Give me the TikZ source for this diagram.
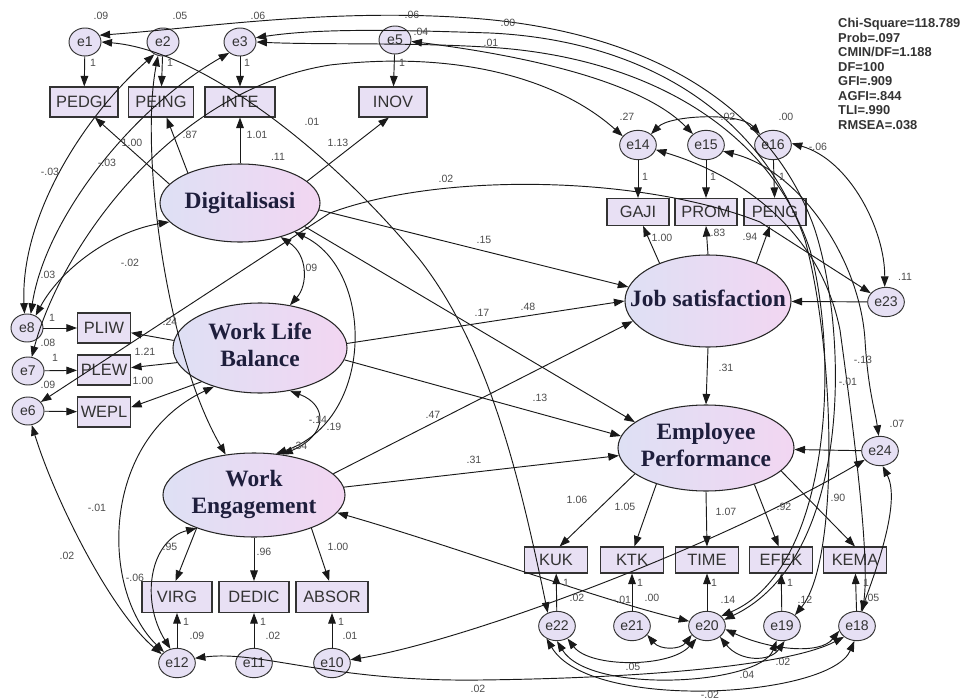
\documentclass[tikz,border=0pt]{standalone}
\usepackage{fontspec}
\setmainfont{Liberation Serif}
\setsansfont{Liberation Sans}
\usepackage{tikz}
\usetikzlibrary{arrows.meta, positioning, shapes.geometric}

\definecolor{latleft}{RGB}{222,224,244}
\definecolor{latright}{RGB}{242,214,242}
\definecolor{boxfill}{RGB}{232,224,244}
\definecolor{errfill}{RGB}{230,224,244}
\definecolor{lattext}{RGB}{30,30,60}

\newcommand{\latname}[1]{\makebox[0pt]{\begin{tabular}{@{}c@{}}#1\end{tabular}}}

\begin{document}
\begin{tikzpicture}[
  x=0.03cm, y=-0.03cm,
  latent/.style={
    ellipse,
    draw=black!85,
    left color=latleft,
    right color=latright,
    line width=0.9pt,
    inner sep=0pt,
    text=lattext,
    font=\rmfamily\bfseries\fontsize{20}{23}\selectfont
  },
  indbox/.style={
    rectangle,
    draw=black!80,
    fill=boxfill,
    line width=0.9pt,
    inner sep=0pt,
    text=black!80,
    font=\sffamily\fontsize{14}{14}\selectfont
  },
  errnode/.style={
    ellipse,
    draw=black!80,
    fill=errfill,
    line width=0.8pt,
    minimum width=1.1cm,
    minimum height=0.88cm,
    inner sep=0pt,
    text=black!80,
    font=\sffamily\fontsize{12}{12}\selectfont
  },
  est/.style={
    inner sep=0pt,
    text=black!70,
    font=\sffamily\fontsize{9}{9}\selectfont
  },
  regarrow/.style={
    draw=black!90,
    -{Triangle[length=9pt,width=6.5pt]},
    line width=0.8pt
  },
  covarrow/.style={
    draw=black!90,
    {Triangle[length=9pt,width=6.5pt]}-{Triangle[length=9pt,width=6.5pt]},
    line width=0.8pt
  }
]
\useasboundingbox (0,0) rectangle (970,700);

% Latent variables
\node[latent, minimum width=4.8cm, minimum height=2.34cm] (dig) at (240,203) {\latname{Digitalisasi}};
\node[latent, minimum width=5.22cm, minimum height=2.7cm] (wlb) at (260,348) {\latname{Work Life\\Balance}};
\node[latent, minimum width=5.46cm, minimum height=2.52cm] (we) at (254,495) {\latname{Work\\Engagement}};
\node[latent, minimum width=4.98cm, minimum height=2.76cm] (js) at (708,301) {\latname{Job satisfaction}};
\node[latent, minimum width=5.28cm, minimum height=2.58cm] (ep) at (706,448) {\latname{Employee\\Performance}};

% Indicators of Digitalisasi
\node[indbox, minimum width=2.04cm, minimum height=0.9cm] (pedgl) at (84,102) {PEDGL};
\node[indbox, minimum width=1.95cm, minimum height=0.9cm] (peing) at (161,102) {PEING};
\node[indbox, minimum width=2.1cm, minimum height=0.9cm] (inte) at (240,102) {INTE};
\node[indbox, minimum width=2.04cm, minimum height=0.9cm] (inov) at (393,102) {INOV};

% Indicators of Work Life Balance
\node[indbox, minimum width=1.59cm, minimum height=0.9cm] (pliw) at (104,328) {PLIW};
\node[indbox, minimum width=1.59cm, minimum height=0.9cm] (plew) at (104,370) {PLEW};
\node[indbox, minimum width=1.59cm, minimum height=0.9cm] (wepl) at (104,412) {WEPL};

% Indicators of Work Engagement
\node[indbox, minimum width=2.1cm, minimum height=0.93cm] (virg) at (177,597) {VIRG};
\node[indbox, minimum width=2.1cm, minimum height=0.93cm] (dedic) at (254,597) {DEDIC};
\node[indbox, minimum width=2.16cm, minimum height=0.93cm] (absor) at (332,597) {ABSOR};

% Indicators of Job satisfaction
\node[indbox, minimum width=1.86cm, minimum height=0.81cm] (gaji) at (638,212) {GAJI};
\node[indbox, minimum width=1.86cm, minimum height=0.81cm] (prom) at (706,212) {PROM};
\node[indbox, minimum width=1.86cm, minimum height=0.81cm] (peng) at (775,212) {PENG};

% Indicators of Employee Performance
\node[indbox, minimum width=1.89cm, minimum height=0.78cm] (kuk) at (556,560) {KUK};
\node[indbox, minimum width=1.89cm, minimum height=0.78cm] (ktk) at (632,560) {KTK};
\node[indbox, minimum width=1.89cm, minimum height=0.78cm] (time) at (707,560) {TIME};
\node[indbox, minimum width=1.89cm, minimum height=0.78cm] (efek) at (781,560) {EFEK};
\node[indbox, minimum width=1.89cm, minimum height=0.78cm] (kema) at (855,560) {KEMA};

% Error terms
\node[errnode, minimum width=0.96cm, minimum height=0.84cm] (e1) at (85,42) {e1};
\node[errnode, minimum width=0.96cm, minimum height=0.84cm] (e2) at (163,42) {e2};
\node[errnode, minimum width=0.96cm, minimum height=0.84cm] (e3) at (240,42) {e3};
\node[errnode, minimum width=0.96cm, minimum height=0.84cm] (e5) at (395,40) {e5};
\node[errnode, minimum width=0.96cm, minimum height=0.84cm] (e8) at (27,328) {e8};
\node[errnode, minimum width=0.96cm, minimum height=0.84cm] (e7) at (28,371) {e7};
\node[errnode, minimum width=0.96cm, minimum height=0.84cm] (e6) at (28,411) {e6};
\node[errnode] (e12) at (177,663) {e12};
\node[errnode] (e11) at (254,663) {e11};
\node[errnode] (e10) at (332,663) {e10};
\node[errnode] (e14) at (638,145) {e14};
\node[errnode] (e15) at (706,145) {e15};
\node[errnode] (e16) at (773,145) {e16};
\node[errnode] (e23) at (886,302) {e23};
\node[errnode] (e24) at (880,451) {e24};
\node[errnode] (e22) at (557,626) {e22};
\node[errnode] (e21) at (632,626) {e21};
\node[errnode] (e20) at (707,626) {e20};
\node[errnode] (e19) at (782,626) {e19};
\node[errnode] (e18) at (857,626) {e18};

% Fit statistics
\node[anchor=north west, align=left, inner sep=0pt, text=black!80,
  font=\sffamily\bfseries\fontsize{11}{12.4}\selectfont] (fit) at (838,18)
{Chi-Square=118.789\\Prob=.097\\CMIN/DF=1.188\\DF=100\\GFI=.909\\AGFI=.844\\TLI=.990\\RMSEA=.038};

% Measurement paths
\draw[regarrow] (dig.165) -- (pedgl.-55);
\draw[regarrow] (dig.150) -- (peing.-70);
\draw[regarrow] (dig.90) -- (inte.-90);
\draw[regarrow] (dig.18) -- (inov.-105);
\draw[regarrow] (wlb.175) -- (pliw.-10);
\draw[regarrow] (wlb.-170) -- (plew.5);
\draw[regarrow] (wlb.-150) -- (wepl.10);
\draw[regarrow] (we.-150) -- (virg.95);
\draw[regarrow] (we.-90) -- (dedic.90);
\draw[regarrow] (we.-30) -- (absor.100);
\draw[regarrow] (js.142) -- (gaji.-70);
\draw[regarrow] (js.90) -- (prom.-90);
\draw[regarrow] (js.38) -- (peng.-110);
\draw[regarrow] (ep.200) -- (kuk.75);
\draw[regarrow] (ep.216) -- (ktk.80);
\draw[regarrow] (ep.-90) -- (time.90);
\draw[regarrow] (ep.-37) -- (efek.100);
\draw[regarrow] (ep.-17) -- (kema.90);

% Error paths
\draw[regarrow] (e1) -- (pedgl);
\draw[regarrow] (e2) -- (peing);
\draw[regarrow] (e3) -- (inte);
\draw[regarrow] (e5) -- (inov);
\draw[regarrow] (e8) -- (pliw);
\draw[regarrow] (e7) -- (plew);
\draw[regarrow] (e6) -- (wepl);
\draw[regarrow] (e12) -- (virg);
\draw[regarrow] (e11) -- (dedic);
\draw[regarrow] (e10) -- (absor);
\draw[regarrow] (e14) -- (gaji);
\draw[regarrow] (e15) -- (prom);
\draw[regarrow] (e16) -- (peng);
\draw[regarrow] (e22) -- (kuk);
\draw[regarrow] (e21) -- (ktk);
\draw[regarrow] (e20) -- (time);
\draw[regarrow] (e19) -- (efek);
\draw[regarrow] (e18) -- (kema);
\draw[regarrow] (e23) -- (js);
\draw[regarrow] (e24) -- (ep);

% Structural paths
\draw[regarrow] (dig.-5) -- (js.170);
\draw[regarrow] (dig.-20) -- (ep.160);
\draw[regarrow] (wlb.3) -- (js.180);
\draw[regarrow] (wlb.-8) -- (ep.172);
\draw[regarrow] (we.15) -- (js.195);
\draw[regarrow] (we.5) -- (ep.185);
\draw[regarrow] (js.-90) -- (ep.90);

% Covariances between latents
\draw[covarrow] (dig.-40) .. controls (308,255) and (308,285) .. (wlb.55);
\draw[covarrow] (dig.-28) .. controls (375,270) and (375,420) .. (we.62);
\draw[covarrow] (wlb.-55) .. controls (328,405) and (328,435) .. (we.55);

% Covariances on the left
\draw[covarrow] (e2.-110) .. controls (140,150) and (165,350) .. (we.125);
\draw[covarrow] (e8.100) .. controls (20,220) and (80,120) .. (e2.-125);
\draw[covarrow] (e8.75) .. controls (45,220) and (130,110) .. (e3.-135);
\draw[covarrow] (e8.55) .. controls (60,270) and (110,232) .. (dig.195);
\draw[covarrow] (e7.75) .. controls (60,250) and (170,90) .. (330,65) .. controls (460,50) and (560,80) .. (e14.150);
\draw[covarrow] (e6.35) -- (330,213) .. controls (440,172) and (640,175) .. (760,222) -- (e23.150);
\draw[covarrow] (e1.0) .. controls (200,50) and (330,150) .. (420,260) .. controls (490,350) and (520,480) .. (e22.125);
\draw[covarrow] (e6.-75) .. controls (55,500) and (110,610) .. (e12.150);
\draw[covarrow] (e12.140) .. controls (100,590) and (100,440) .. (wlb.-140);
\draw[covarrow] (e12.115) .. controls (140,600) and (150,540) .. (we.-150);
\draw[covarrow] (e12.15) .. controls (260,650) and (330,682) .. (480,680) .. controls (650,678) and (790,665) .. (e18.-140);
\draw[covarrow] (e10.10) .. controls (470,640) and (720,545) .. (e24.-150);
\draw[covarrow] (we.-12) .. controls (450,545) and (600,600) .. (e20.165);

% Covariances across the top and down the right
\draw[covarrow] (e1.25) .. controls (200,28) and (330,8) .. (470,18) .. controls (640,30) and (770,100) .. (815,230) .. controls (850,340) and (850,560) .. (e20.20);
\draw[covarrow] (e3.15) .. controls (320,28) and (400,30) .. (490,33) .. controls (640,40) and (760,110) .. (805,240) .. controls (835,350) and (840,560) .. (e19.40);
\draw[covarrow] (e3.0) .. controls (320,45) and (420,42) .. (500,48) .. controls (650,60) and (770,130) .. (810,250) .. controls (840,360) and (830,570) .. (e20.35);
\draw[covarrow] (e5.-5) .. controls (520,55) and (640,80) .. (e15.140);
\draw[covarrow] (e14.40) .. controls (670,115) and (740,112) .. (e16.140);
\draw[covarrow] (e14.-15) .. controls (740,175) and (820,230) .. (840,330) .. controls (855,440) and (870,560) .. (e18.70);
\draw[covarrow] (e15.-20) .. controls (800,170) and (860,260) .. (865,340) .. controls (868,390) and (875,410) .. (e24.95);
\draw[covarrow] (e16.5) .. controls (850,160) and (885,230) .. (e23.95);
\draw[covarrow] (e18.75) .. controls (880,560) and (900,500) .. (e24.-80);

% Covariances among the bottom errors
\draw[covarrow] (e22.-50) .. controls (590,668) and (670,668) .. (e20.-130);
\draw[covarrow] (e21.-30) .. controls (660,650) and (680,650) .. (e20.-150);
\draw[covarrow] (e22.-90) .. controls (590,695) and (760,685) .. (e19.-110);
\draw[covarrow] (e22.-130) .. controls (590,712) and (830,698) .. (e18.-100);
\draw[covarrow] (e20.-40) .. controls (740,662) and (770,662) .. (e19.-80);
\draw[covarrow] (e20.-10) .. controls (770,650) and (820,655) .. (e18.-165);

% Estimates, top
\node[est] (ve1) at (101,16) {.09};
\node[est] (ve2) at (180,16) {.05};
\node[est] (ve3) at (258,16) {.06};
\node[est] (ve5) at (412,15) {.06};
\node[est] (c5a) at (421,32) {.04};
\node[est] (ct1) at (508,23) {.00};
\node[est] (ct2) at (491,43) {.01};
\node[est] (w1) at (93,63) {1};
\node[est] (w2) at (170,63) {1};
\node[est] (w3) at (247,63) {1};
\node[est] (w5) at (402,63) {1};
\node[est] (lpedgl) at (132,143) {1.00};
\node[est] (lpeing) at (190,135) {.87};
\node[est] (linte) at (257,135) {1.01};
\node[est] (vdig) at (278,157) {.11};
\node[est] (c1e22) at (312,122) {.01};
\node[est] (linov) at (338,143) {1.13};
\node[est] (c6e23) at (446,179) {.02};

% Estimates, left
\node[est] (c8e2) at (50,172) {-.03};
\node[est] (c8e3) at (107,163) {-.03};
\node[est] (c2we) at (130,263) {-.02};
\node[est] (c8dig) at (48,275) {.03};
\node[est] (w8) at (52,318) {1};
\node[est] (ve8) at (48,343) {.08};
\node[est] (w7) at (55,358) {1};
\node[est] (ve7) at (48,385) {.09};
\node[est] (lpliw) at (170,322) {.24};
\node[est] (lplew) at (145,352) {1.21};
\node[est] (lwepl) at (143,381) {1.00};
\node[est] (cdw) at (310,268) {.09};
\node[est] (cwl1) at (318,420) {-.14};
\node[est] (cwl2) at (334,427) {.19};
\node[est] (vwe) at (300,446) {.34};

% Estimates, structural
\node[est] (b15) at (484,240) {.15};
\node[est] (b17) at (482,313) {.17};
\node[est] (b48) at (528,307) {.48};
\node[est] (b13) at (540,398) {.13};
\node[est] (b47) at (433,415) {.47};
\node[est] (b31a) at (474,460) {.31};
\node[est] (b31b) at (726,368) {.31};

% Estimates, Job satisfaction
\node[est] (ve14) at (627,117) {.27};
\node[est] (ve15) at (728,117) {.02};
\node[est] (ve16) at (786,117) {.00};
\node[est] (c16e23) at (818,147) {-.06};
\node[est] (w14) at (645,177) {1};
\node[est] (w15) at (713,177) {1};
\node[est] (w16) at (782,177) {1};
\node[est] (lgaji) at (662,238) {1.00};
\node[est] (lprom) at (718,233) {.83};
\node[est] (lpeng) at (750,237) {.94};
\node[est] (ve23) at (905,277) {.11};
\node[est] (ve24) at (897,424) {.07};
\node[est] (c15e24) at (863,360) {-.13};
\node[est] (c3e20) at (848,382) {-.01};

% Estimates, Employee Performance
\node[est] (lkuk) at (577,500) {1.06};
\node[est] (lktk) at (625,507) {1.05};
\node[est] (ltime) at (726,512) {1.07};
\node[est] (lefek) at (784,507) {.92};
\node[est] (lkema) at (838,498) {.90};
\node[est] (w22) at (566,583) {1};
\node[est] (w21) at (640,583) {1};
\node[est] (w20) at (714,583) {1};
\node[est] (w19) at (790,583) {1};
\node[est] (w18) at (866,583) {1};
\node[est] (ve22) at (577,598) {.02};
\node[est] (ve21a) at (622,600) {-.01};
\node[est] (ve21b) at (652,598) {.00};
\node[est] (ve20) at (728,600) {.14};
\node[est] (ve19) at (805,600) {.12};
\node[est] (ve18) at (872,598) {.05};
\node[est] (c2220) at (633,667) {.05};
\node[est] (c2019) at (783,662) {.02};
\node[est] (c2219) at (747,675) {.04};
\node[est] (c2218) at (710,695) {-.02};
\node[est] (c1218) at (478,689) {.02};

% Estimates, Work Engagement
\node[est] (lvirg) at (170,547) {.95};
\node[est] (ldedic) at (264,552) {.96};
\node[est] (labsor) at (338,547) {1.00};
\node[est] (c12wlb) at (97,508) {-.01};
\node[est] (c126) at (67,556) {.02};
\node[est] (c12we) at (135,578) {-.06};
\node[est] (w12) at (186,622) {1};
\node[est] (ve12) at (197,636) {.09};
\node[est] (w11) at (263,622) {1};
\node[est] (ve11) at (273,636) {.02};
\node[est] (w10) at (341,622) {1};
\node[est] (ve10) at (350,636) {.01};

\end{tikzpicture}
\end{document}
